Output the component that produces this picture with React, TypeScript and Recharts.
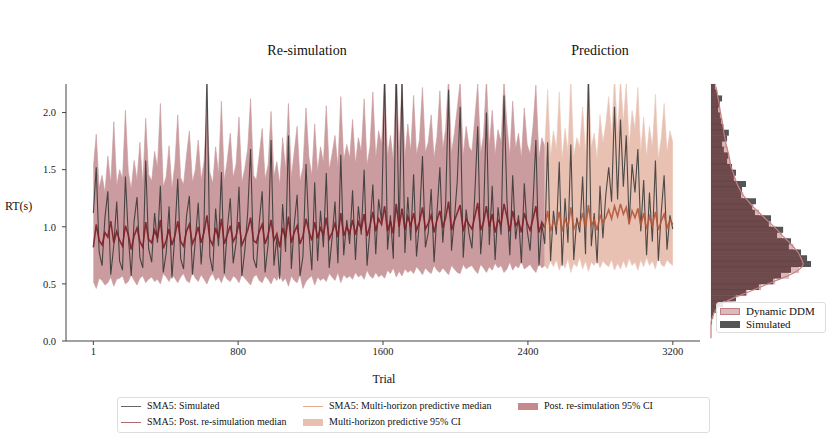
import React from 'react';
import {
  ComposedChart,
  Area,
  Line,
  Bar,
  XAxis,
  YAxis,
} from 'recharts';

// SMA5 of the simulated RTs, one value every ~16 trials (200 points, trials 1..3200)
const SIM = [
  1.12, 1.52, 0.78, 0.66, 1.08, 1.31, 0.58, 0.84, 1.22, 0.70,
  0.62, 1.44, 0.92, 0.57, 1.05, 1.26, 0.73, 0.64, 1.58, 0.81,
  0.69, 1.12, 0.86, 1.36, 0.60, 0.77, 1.18, 0.55, 0.94, 1.42,
  0.72, 0.63, 1.09, 1.27, 0.58, 0.88, 1.21, 0.67, 1.02, 2.35,
  0.74, 0.61, 1.16, 0.83, 1.48, 0.59, 0.97, 1.25, 0.68, 0.86,
  1.35, 0.57, 0.79, 1.12, 1.68, 0.72, 0.64, 1.04, 1.31, 0.60,
  0.85, 1.76, 0.66, 0.91, 0.54, 1.20, 0.78, 1.80, 0.63, 1.02,
  1.28, 0.57, 0.74, 1.55, 0.96, 0.62, 1.39, 0.70, 1.14, 0.82,
  1.47, 0.64, 0.90, 1.22, 0.68, 1.63, 0.75, 1.06, 0.85, 1.32,
  0.71, 1.18, 0.93, 1.50, 0.66, 0.98, 1.37, 0.76, 1.24, 1.05,
  2.35, 0.80, 1.10, 0.72, 2.40, 0.91, 2.30, 0.77, 1.26, 0.88,
  1.46, 0.74, 1.04, 1.62, 0.82, 0.95, 1.33, 0.69, 1.12, 1.52,
  0.86, 1.21, 2.20, 0.79, 1.06, 1.40, 2.05, 0.73, 1.15, 0.94,
  0.81, 1.29, 1.88, 0.76, 1.08, 2.00, 0.84, 1.36, 0.71, 1.17,
  0.93, 2.15, 1.24, 0.75, 1.45, 0.89, 1.10, 0.68, 1.38, 0.97,
  0.79, 1.20, 1.76, 0.66, 1.02, 0.85, 1.74, 0.70, 1.14, 0.93,
  1.57, 0.66, 1.25, 0.86, 1.72, 0.71, 1.08, 0.95, 1.44, 0.76,
  2.35, 0.83, 1.12, 0.68, 1.36, 0.90, 1.28, 1.52, 1.22, 2.05,
  1.24, 1.94, 1.35, 1.80, 1.02, 1.55, 1.30, 1.68, 0.96, 1.41,
  0.75, 1.30, 0.87, 1.58, 0.70, 1.12, 1.45, 0.80, 1.10, 0.98,
];

// posterior re-simulation (points 0..155)
const RESIM_MED = [
  0.82, 1.02, 0.88, 0.84, 0.95, 0.91, 1.05, 0.86, 0.96, 0.88,
  0.83, 1.01, 0.93, 0.80, 0.92, 0.99, 0.87, 0.82, 1.04, 0.89,
  0.86, 0.97, 0.90, 1.06, 0.81, 0.88, 0.98, 0.84, 0.92, 1.05,
  0.87, 0.83, 0.96, 1.02, 0.85, 0.91, 1.00, 0.86, 0.95, 1.10,
  0.89, 0.84, 0.99, 0.90, 1.07, 0.85, 0.93, 1.01, 0.87, 0.92,
  1.04, 0.84, 0.90, 0.97, 1.08, 0.88, 0.86, 0.96, 1.02, 0.85,
  0.93, 1.06, 0.88, 0.94, 0.82, 0.99, 0.90, 1.09, 0.86, 0.95,
  1.01, 0.85, 0.92, 1.07, 0.96, 0.88, 1.04, 0.90, 0.99, 0.93,
  1.08, 0.89, 0.95, 1.03, 0.91, 1.12, 0.92, 1.00, 0.94, 1.06,
  0.93, 1.04, 0.98, 1.11, 0.92, 1.01, 1.13, 0.96, 1.07, 1.02,
  1.18, 0.96, 1.05, 0.94, 1.20, 1.00, 1.16, 0.97, 1.09, 1.01,
  1.12, 0.97, 1.04, 1.17, 0.98, 1.03, 1.10, 0.95, 1.06, 1.14,
  0.99, 1.08, 1.22, 0.97, 1.05, 1.12, 1.19, 0.96, 1.07, 1.02,
  0.98, 1.09, 1.21, 0.97, 1.04, 1.18, 1.00, 1.11, 0.95, 1.06,
  1.02, 1.20, 1.09, 0.96, 1.14, 1.01, 1.05, 0.95, 1.12, 1.03,
  0.97, 1.07, 1.18, 0.95, 1.04, 0.99,
];
const RESIM_LO = [
  0.52, 0.46, 0.55, 0.53, 0.49, 0.51, 0.56, 0.48, 0.54, 0.55,
  0.57, 0.50, 0.52, 0.58, 0.53, 0.49, 0.55, 0.57, 0.51, 0.54,
  0.56, 0.52, 0.54, 0.50, 0.59, 0.56, 0.52, 0.58, 0.55, 0.51,
  0.56, 0.59, 0.53, 0.51, 0.60, 0.55, 0.52, 0.58, 0.54, 0.50,
  0.56, 0.59, 0.53, 0.56, 0.51, 0.58, 0.54, 0.52, 0.57, 0.55,
  0.51, 0.58, 0.55, 0.52, 0.49, 0.56, 0.58, 0.53, 0.51, 0.57,
  0.54, 0.50, 0.56, 0.53, 0.59, 0.52, 0.55, 0.48, 0.57, 0.53,
  0.51, 0.58, 0.46, 0.52, 0.55, 0.57, 0.49, 0.56, 0.53, 0.55,
  0.52, 0.59, 0.56, 0.53, 0.60, 0.51, 0.58, 0.55, 0.57, 0.54,
  0.60, 0.56, 0.58, 0.54, 0.62, 0.57, 0.55, 0.60, 0.56, 0.58,
  0.55, 0.62, 0.59, 0.64, 0.56, 0.61, 0.57, 0.63, 0.60, 0.62,
  0.59, 0.65, 0.62, 0.58, 0.64, 0.61, 0.59, 0.66, 0.62, 0.60,
  0.64, 0.61, 0.58, 0.66, 0.63, 0.60, 0.59, 0.67, 0.63, 0.65,
  0.66, 0.62, 0.59, 0.67, 0.64, 0.60, 0.65, 0.62, 0.68, 0.64,
  0.66, 0.60, 0.63, 0.69, 0.62, 0.66, 0.64, 0.70, 0.63, 0.65,
  0.67, 0.63, 0.60, 0.68, 0.64, 0.66,
];
const RESIM_HI = [
  1.52, 1.81, 1.34, 1.45, 1.30, 1.62, 1.38, 1.92, 1.36, 1.50,
  1.42, 2.02, 1.48, 1.33, 1.58, 1.41, 1.74, 1.37, 1.95, 1.46,
  1.40, 1.66, 1.52, 2.08, 1.35, 1.44, 1.71, 1.33, 1.55, 1.98,
  1.43, 1.37, 1.62, 1.84, 1.39, 1.50, 1.76, 1.41, 1.57, 2.05,
  1.48, 1.38, 1.70, 1.46, 2.10, 1.40, 1.58, 1.82, 1.43, 1.55,
  1.96, 1.39, 1.51, 1.68, 2.12, 1.45, 1.41, 1.63, 1.86, 1.42,
  1.54, 2.01, 1.44, 1.57, 1.37, 1.78, 1.50, 2.08, 1.43, 1.66,
  1.88, 1.40, 1.52, 2.04, 1.61, 1.45, 1.90, 1.48, 1.70, 1.56,
  2.06, 1.50, 1.64, 1.80, 1.52, 2.14, 1.58, 1.72, 1.60, 1.94,
  1.55, 1.78, 1.66, 2.12, 1.54, 1.70, 2.18, 1.60, 1.84, 1.72,
  2.30, 1.62, 1.80, 1.58, 2.35, 1.68, 2.28, 1.61, 1.90, 1.66,
  2.15, 1.63, 1.76, 2.22, 1.65, 1.74, 1.98, 1.60, 1.79, 2.19,
  1.68, 1.86, 2.32, 1.64, 1.82, 2.04, 2.27, 1.62, 1.88, 1.70,
  1.66, 1.95, 2.25, 1.64, 1.80, 2.30, 1.70, 2.02, 1.63, 1.85,
  1.74, 2.28, 1.90, 1.62, 2.10, 1.68, 1.82, 1.60, 2.04, 1.72,
  1.64, 1.88, 2.24, 1.60, 1.78, 1.70,
];

// multi-horizon prediction (points 155..199)
const PRED_MED = [
  0.99, 1.14, 0.96, 1.05, 1.01,
  1.13, 0.96, 1.07, 1.00, 1.17, 0.98, 1.04, 1.02, 1.12, 0.99,
  1.19, 1.01, 1.06, 0.97, 1.10, 1.04, 1.08, 1.15, 1.07, 1.18,
  1.09, 1.20, 1.11, 1.17, 1.03, 1.14, 1.08, 1.16, 1.01, 1.12,
  0.98, 1.09, 1.01, 1.13, 0.97, 1.05, 1.11, 0.99, 1.06, 1.02,
];
const PRED_LO = [
  0.66, 0.63, 0.70, 0.65, 0.71,
  0.62, 0.69, 0.64, 0.72, 0.60, 0.68, 0.65, 0.73, 0.63, 0.70,
  0.61, 0.69, 0.66, 0.72, 0.64, 0.70, 0.67, 0.65, 0.71, 0.62,
  0.68, 0.63, 0.70, 0.64, 0.72, 0.66, 0.69, 0.62, 0.71, 0.65,
  0.73, 0.66, 0.70, 0.63, 0.74, 0.67, 0.65, 0.71, 0.68, 0.66,
];
const PRED_HI = [
  1.70, 2.20, 1.62, 1.84, 1.68,
  2.18, 1.60, 1.86, 1.66, 2.30, 1.62, 1.78, 1.70, 2.05, 1.64,
  2.35, 1.70, 1.82, 1.60, 1.98, 1.74, 1.90, 2.14, 1.80, 2.32,
  1.82, 2.30, 1.92, 2.26, 1.72, 2.02, 1.86, 2.22, 1.66, 1.96,
  1.62, 1.88, 1.70, 2.16, 1.60, 1.78, 2.08, 1.66, 1.84, 1.74,
];

// RT histogram, bins of 0.05 s from 0 to 2.25 (lowest bin first)
const HIST_SIM = [
  0, 0, 0, 3, 6, 14, 34, 70, 98, 134,
  174, 196, 224, 280, 269, 252, 218, 224, 185, 202,
  162, 168, 123, 115, 126, 84, 87, 98, 64, 70,
  59, 45, 48, 36, 31, 45, 50, 34, 28, 25,
  20, 25, 31, 17, 11,
];
const HIST_DDM = [
  0, 0, 0, 1, 6, 14, 31, 62, 101, 140,
  179, 218, 246, 258, 252, 244, 230, 216, 199, 185,
  168, 151, 134, 118, 104, 90, 81, 73, 67, 62,
  56, 53, 50, 46, 42, 39, 36, 34, 31, 28,
  25, 23, 20, 17, 14,
];

const X_TICKS = [1, 800, 1600, 2400, 3200];
const Y_TICKS = [0, 0.5, 1.0, 1.5, 2.0];
const SPLIT = 155;

const FONT = "'Liberation Serif', 'DejaVu Serif', serif";
const W = 830;
const H = 437;

const trialAt = (i: number) => Math.round(1 + (i * 3199) / (SIM.length - 1));

const mainRows = SIM.map((s, i) => ({
  trial: trialAt(i),
  sim: s,
  med: i <= SPLIT ? RESIM_MED[i] : null,
  ciRe: i <= SPLIT ? [RESIM_LO[i], RESIM_HI[i]] : null,
  predMed: i >= SPLIT ? PRED_MED[i - SPLIT] : null,
  ciPred: i >= SPLIT ? [PRED_LO[i - SPLIT], PRED_HI[i - SPLIT]] : null,
}));

// vertical layout puts the first row on top, so highest bin first
const histRows = HIST_SIM.map((c, i) => ({
  bin: i,
  sim: c,
  ddm: HIST_DDM[i],
})).reverse();

const histMargin = { top: 84, right: 19, bottom: 96, left: 711 };

const abs = (left: number, top: number, extra: React.CSSProperties = {}): React.CSSProperties => ({
  position: 'absolute',
  left,
  top,
  fontFamily: FONT,
  color: '#111',
  whiteSpace: 'nowrap',
  ...extra,
});

const LineSwatch = ({ color }: { color: string }) => (
  <span style={{ display: 'inline-block', width: 20, height: 0, borderTop: `1.5px solid ${color}`, verticalAlign: 'middle' }} />
);
const PatchSwatch = ({ color, edge }: { color: string; edge?: string }) => (
  <span
    style={{
      display: 'inline-block',
      width: 20,
      height: 7,
      background: color,
      boxSizing: 'border-box',
      border: edge ? `1px solid ${edge}` : 'none',
      verticalAlign: 'middle',
    }}
  />
);

const LegendItem = ({ x, y, swatch, text, size = 10 }: { x: number; y: number; swatch: React.ReactNode; text: string; size?: number }) => (
  <div style={abs(x, y, { fontSize: size, lineHeight: '12px', display: 'flex', alignItems: 'center', gap: 6 })}>
    {swatch}
    <span>{text}</span>
  </div>
);

export default function App() {
  return (
    <div style={{ position: 'absolute', left: 0, top: 0, width: W, height: H, background: '#fff' }}>
      <div style={{ position: 'absolute', left: 0, top: 0 }}>
        <ComposedChart width={W} height={H} data={mainRows} margin={{ top: 84, right: 130, bottom: 66, left: 16 }}>
          <XAxis
            dataKey="trial"
            type="number"
            domain={[-150, 3350]}
            ticks={X_TICKS}
            height={30}
            tickSize={4}
            tickMargin={3}
            tick={{ fill: '#222', fontSize: 10.5, fontFamily: FONT }}
            axisLine={{ stroke: '#444' }}
            tickLine={{ stroke: '#444' }}
          />
          <YAxis
            type="number"
            domain={[0, 2.25]}
            ticks={Y_TICKS}
            allowDataOverflow
            width={50}
            tickSize={4}
            tickMargin={6}
            tickFormatter={(v: number) => v.toFixed(1)}
            tick={{ fill: '#222', fontSize: 10.5, fontFamily: FONT }}
            axisLine={{ stroke: '#444' }}
            tickLine={{ stroke: '#444' }}
          />
          <Area dataKey="ciRe" type="linear" stroke="#c99a9d" strokeWidth={0.6} fill="#bd8084" fillOpacity={0.78} isAnimationActive={false} activeDot={false} />
          <Area dataKey="ciPred" type="linear" stroke="#ebc9bd" strokeWidth={0.6} fill="#e2b19f" fillOpacity={0.8} isAnimationActive={false} activeDot={false} />
          <Line dataKey="sim" type="linear" stroke="#333333" strokeOpacity={0.85} strokeWidth={1.1} dot={false} activeDot={false} isAnimationActive={false} />
          <Line dataKey="med" type="linear" stroke="#7d1f26" strokeOpacity={0.9} strokeWidth={1.6} dot={false} activeDot={false} isAnimationActive={false} />
          <Line dataKey="predMed" type="linear" stroke="#b4583a" strokeOpacity={0.9} strokeWidth={1.6} dot={false} activeDot={false} isAnimationActive={false} />
        </ComposedChart>
      </div>

      {/* histogram: simulated underneath */}
      <div style={{ position: 'absolute', left: 0, top: 0 }}>
        <ComposedChart width={W} height={H} data={histRows} layout="vertical" margin={histMargin} barCategoryGap={0}>
          <XAxis type="number" domain={[0, 280]} hide />
          <YAxis type="category" dataKey="bin" hide width={0} />
          <Bar dataKey="sim" fill="#555555" isAnimationActive={false} />
        </ComposedChart>
      </div>

      {/* histogram: Dynamic DDM on top, translucent */}
      <div style={{ position: 'absolute', left: 0, top: 0 }}>
        <ComposedChart width={W} height={H} data={histRows} layout="vertical" margin={histMargin} barCategoryGap={0}>
          <XAxis type="number" domain={[0, 280]} hide />
          <YAxis type="category" dataKey="bin" width={0} tick={false} tickLine={false} axisLine={{ stroke: '#3a2426', strokeWidth: 1.2 }} />
          <Bar dataKey="ddm" fill="#9c363c" fillOpacity={0.35} stroke="#4a2a2c" strokeOpacity={0.18} strokeWidth={0.5} isAnimationActive={false} />
          <Line dataKey="ddm" type="monotone" stroke="#c77f83" strokeWidth={1.2} dot={false} activeDot={false} isAnimationActive={false} />
        </ComposedChart>
      </div>

      {/* titles and axis labels */}
      <div style={abs(307, 43, { fontSize: 14, transform: 'translateX(-50%)' })}>Re-simulation</div>
      <div style={abs(600, 43, { fontSize: 14, transform: 'translateX(-50%)' })}>Prediction</div>
      <div style={abs(5, 199, { fontSize: 12 })}>RT(s)</div>
      <div style={abs(384, 372, { fontSize: 12, transform: 'translateX(-50%)' })}>Trial</div>

      {/* histogram legend */}
      <div
        style={{
          position: 'absolute',
          left: 716,
          top: 302,
          width: 110,
          height: 31,
          boxSizing: 'border-box',
          border: '1px solid #ddd',
          borderRadius: 3,
          background: 'rgba(255,255,255,0.85)',
        }}
      />
      <LegendItem x={720} y={305} size={11} swatch={<PatchSwatch color="#dcb9bb" edge="#c07f84" />} text="Dynamic DDM" />
      <LegendItem x={720} y={318} size={11} swatch={<PatchSwatch color="#555555" />} text="Simulated" />

      {/* bottom legend */}
      <div
        style={{
          position: 'absolute',
          left: 117,
          top: 397,
          width: 593,
          height: 36,
          boxSizing: 'border-box',
          border: '1px solid #ddd',
          borderRadius: 3,
          background: '#fff',
        }}
      />
      <LegendItem x={121} y={400} swatch={<LineSwatch color="#666666" />} text="SMA5: Simulated" />
      <LegendItem x={121} y={416} swatch={<LineSwatch color="#b06a6e" />} text="SMA5: Post. re-simulation median" />
      <LegendItem x={303} y={400} swatch={<LineSwatch color="#e8a890" />} text="SMA5: Multi-horizon predictive median" />
      <LegendItem x={303} y={416} swatch={<PatchSwatch color="#e8c0b0" />} text="Multi-horizon predictive 95% CI" />
      <LegendItem x={518} y={400} swatch={<PatchSwatch color="#c48a8e" />} text="Post. re-simulation 95% CI" />
    </div>
  );
}
